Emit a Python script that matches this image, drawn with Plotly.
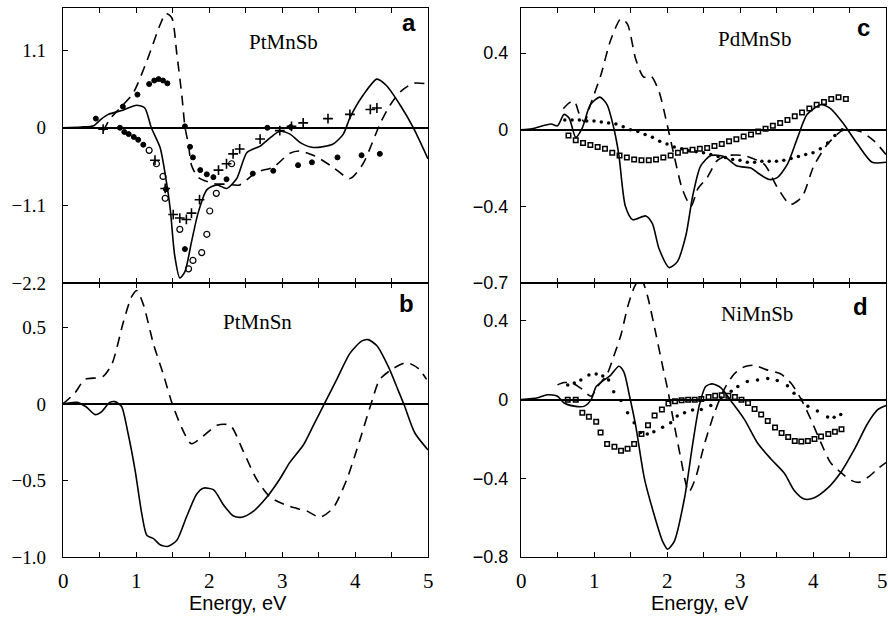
import plotly.graph_objects as go

W, H = 888, 627

# ---------------- Panel a : PtMnSb ----------------
A_SOLID_E = [0, 0.25, 0.42, 0.52, 0.62, 0.82, 1.01, 1.12, 1.21, 1.33, 1.42, 1.47, 1.53, 1.60, 1.67, 1.76, 1.85,
             1.97, 2.11, 2.24, 2.38, 2.52, 2.70, 2.84, 2.97, 3.11, 3.25, 3.43, 3.70, 3.84, 3.93, 4.11, 4.30,
             4.43, 4.62, 4.80, 5.0]
A_SOLID_V = [0, 0.01, 0.03, 0.12, 0.19, 0.25, 0.32, 0.28, 0.0, -0.28, -0.79, -1.16, -1.81, -2.13, -2.04, -1.62,
             -1.21, -0.88, -0.81, -0.86, -0.72, -0.35, -0.26, -0.14, -0.05, -0.09, -0.21, -0.28, -0.23, -0.09,
             0.14, 0.46, 0.69, 0.60, 0.32, 0.0, -0.44]
A_DASH_E = [0.55, 0.64, 0.80, 0.96, 1.15, 1.33, 1.41, 1.49, 1.56, 1.63, 1.67, 1.72, 1.76, 1.85, 2.06, 2.24, 2.42,
            2.65, 2.88, 3.11, 3.25, 3.45, 3.70, 3.93, 4.11, 4.23, 4.34, 4.48, 4.62, 4.80, 5.0]
A_DASH_V = [-0.05, 0.12, 0.30, 0.49, 0.95, 1.46, 1.62, 1.56, 1.04, 0.44, 0.02, -0.25, -0.53, -0.70, -0.79, -0.80,
            -0.81, -0.63, -0.56, -0.36, -0.33, -0.40, -0.56, -0.72, -0.51, -0.23, 0.05, 0.32, 0.51, 0.63, 0.62]
A_DOT_E = [0.45, 0.82, 1.02, 1.18, 1.25, 1.31, 1.37, 1.43, 0.78, 0.84, 0.90, 0.97, 1.03, 1.10, 1.41, 1.67,
           1.67, 1.74, 1.78, 1.88, 1.97, 2.06, 2.24, 2.60, 2.88, 3.22, 3.41, 3.76, 4.09, 4.34, 2.80, 3.12]
A_DOT_V = [0.13, 0.30, 0.47, 0.62, 0.67, 0.69, 0.67, 0.63, 0.0, -0.06, -0.09, -0.13, -0.17, -0.24, -0.87, -1.72,
           0.02, -0.27, -0.42, -0.60, -0.66, -0.70, -0.73, -0.65, -0.61, -0.53, -0.49, -0.42, -0.39, -0.37, 0.0, 0.01]
A_OPEN_E = [1.18, 1.28, 1.37, 1.40, 1.60, 1.72, 1.78, 1.90, 1.97, 2.01, 2.10, 2.31]
A_OPEN_V = [-0.32, -0.51, -0.69, -1.00, -1.44, -2.00, -1.88, -1.77, -1.51, -1.18, -0.93, -0.51]
A_PLUS_E = [0.55, 1.26, 1.40, 1.51, 1.60, 1.69, 1.76, 1.87, 2.13, 2.24, 2.33, 2.42, 2.70, 2.97, 3.13, 3.29,
            3.63, 3.93, 4.21, 4.30]
A_PLUS_V = [-0.02, -0.46, -0.86, -1.23, -1.28, -1.30, -1.21, -1.02, -0.60, -0.51, -0.37, -0.30, -0.16, -0.04,
            0.02, 0.07, 0.13, 0.19, 0.26, 0.28]

# ---------------- Panel b : PtMnSn ----------------
B_SOLID_E = [0, 0.19, 0.32, 0.44, 0.53, 0.64, 0.71, 0.80, 0.89, 0.99, 1.08, 1.15, 1.24, 1.33, 1.44, 1.56, 1.69,
             1.83, 1.92, 2.06, 2.20, 2.33, 2.45, 2.61, 2.79, 2.97, 3.11, 3.29, 3.43, 3.59, 3.75, 3.93, 4.09,
             4.18, 4.30, 4.46, 4.59, 4.68, 4.82, 5.0]
B_SOLID_V = [0, 0.01, -0.02, -0.07, -0.05, 0.01, 0.015, -0.015, -0.19, -0.44, -0.72, -0.86, -0.88, -0.92, -0.93,
             -0.89, -0.74, -0.59, -0.55, -0.56, -0.66, -0.73, -0.74, -0.70, -0.61, -0.49, -0.38, -0.27, -0.14,
             0.01, 0.16, 0.33, 0.41, 0.42, 0.38, 0.24, 0.09, -0.015, -0.19, -0.30]
B_DASH_E = [0, 0.16, 0.30, 0.46, 0.55, 0.67, 0.83, 0.94, 1.01, 1.10, 1.24, 1.37, 1.49, 1.63, 1.76, 1.92, 2.11,
            2.29, 2.47, 2.65, 2.84, 3.11, 3.34, 3.52, 3.70, 3.89, 4.07, 4.21, 4.34, 4.52, 4.71, 4.87, 4.98]
B_DASH_V = [0, 0.07, 0.16, 0.17, 0.18, 0.26, 0.54, 0.70, 0.74, 0.65, 0.39, 0.20, 0.01, -0.16, -0.26, -0.21, -0.14,
            -0.14, -0.31, -0.49, -0.61, -0.67, -0.70, -0.74, -0.68, -0.49, -0.23, -0.015, 0.16, 0.23, 0.27,
            0.23, 0.16]

# ---------------- Panel c : PdMnSb ----------------
C_SOLID_E = [0, 0.15, 0.41, 0.50, 0.59, 0.66, 0.75, 0.84, 0.95, 1.08, 1.18, 1.27, 1.34, 1.43, 1.53, 1.71, 1.80,
             1.89, 2.03, 2.14, 2.26, 2.35, 2.46, 2.60, 2.78, 2.96, 3.15, 3.26, 3.40, 3.51, 3.65, 3.79, 3.92,
             4.11, 4.24, 4.42, 4.61, 4.81, 5.0]
C_SOLID_V = [0, 0.005, 0.03, 0.02, 0.08, 0.06, -0.04, 0.01, 0.13, 0.17, 0.13, 0.01, -0.13, -0.40, -0.47, -0.45,
             -0.49, -0.62, -0.72, -0.69, -0.55, -0.35, -0.19, -0.135, -0.14, -0.19, -0.20, -0.23, -0.26, -0.25,
             -0.18, -0.04, 0.08, 0.13, 0.11, 0.03, -0.075, -0.17, -0.17]
C_DASH_E = [0.58, 0.66, 0.73, 0.80, 0.87, 0.95, 1.09, 1.23, 1.37, 1.46, 1.57, 1.68, 1.78, 1.89, 2.00, 2.10, 2.21,
            2.33, 2.42, 2.55, 2.69, 2.83, 3.05, 3.33, 3.51, 3.69, 3.85, 4.01, 4.20, 4.42, 4.65, 4.84, 5.0]
C_DASH_V = [0.11, 0.14, 0.15, 0.08, 0.04, 0.13, 0.28, 0.47, 0.58, 0.55, 0.37, 0.275, 0.28, 0.20, 0.03, -0.14,
            -0.31, -0.40, -0.31, -0.25, -0.16, -0.135, -0.135, -0.18, -0.30, -0.39, -0.35, -0.19, -0.075, 0.0,
            -0.01, -0.06, -0.13]
C_DOT_E = [0.6, 0.7, 0.8, 0.9, 1.0, 1.1, 1.2, 1.3, 1.4, 1.5, 1.6, 1.7, 1.8, 1.9, 2.0, 2.1, 2.2, 2.3, 2.4, 2.5,
           2.6, 2.7, 2.8, 2.9, 3.0, 3.1, 3.2, 3.3, 3.4, 3.5, 3.6, 3.7, 3.8, 3.9, 4.0, 4.1, 4.2, 4.3, 4.4]
C_DOT_V = [0.05, 0.05, 0.05, 0.045, 0.045, 0.04, 0.035, 0.03, 0.015, 0.0, -0.01, -0.025, -0.04, -0.06, -0.075,
           -0.09, -0.10, -0.11, -0.115, -0.12, -0.13, -0.14, -0.145, -0.155, -0.16, -0.17, -0.17, -0.165, -0.165,
           -0.165, -0.16, -0.15, -0.14, -0.13, -0.12, -0.10, -0.07, -0.03, 0.0]
C_SQ_E = [0.65, 0.75, 0.85, 0.95, 1.05, 1.15, 1.25, 1.35, 1.45, 1.55, 1.65, 1.75, 1.85, 1.95, 2.05, 2.15, 2.25,
          2.35, 2.45, 2.55, 2.65, 2.75, 2.85, 2.95, 3.05, 3.15, 3.25, 3.35, 3.45, 3.55, 3.65, 3.75, 3.85, 3.95,
          4.05, 4.15, 4.25, 4.35, 4.45]
C_SQ_V = [-0.03, -0.055, -0.07, -0.08, -0.09, -0.10, -0.12, -0.135, -0.145, -0.155, -0.16, -0.16, -0.155, -0.145,
          -0.135, -0.12, -0.11, -0.105, -0.10, -0.095, -0.085, -0.075, -0.06, -0.05, -0.035, -0.025, -0.01, 0.005,
          0.02, 0.035, 0.05, 0.07, 0.09, 0.11, 0.13, 0.145, 0.16, 0.17, 0.16]

# ---------------- Panel d : NiMnSb ----------------
D_SOLID_E = [0, 0.23, 0.36, 0.50, 0.59, 0.73, 0.87, 0.96, 1.03, 1.14, 1.23, 1.34, 1.41, 1.48, 1.57, 1.69, 1.82,
             1.94, 2.01, 2.10, 2.24, 2.35, 2.44, 2.53, 2.62, 2.74, 2.88, 3.06, 3.24, 3.42, 3.61, 3.74, 3.88,
             4.01, 4.20, 4.38, 4.57, 4.75, 4.89, 5.0]
D_SOLID_V = [0, 0.01, 0.025, 0.017, -0.017, -0.033, -0.033, 0, 0.067, 0.10, 0.125, 0.17, 0.14, 0.03, -0.13, -0.40,
             -0.58, -0.72, -0.76, -0.72, -0.50, -0.23, -0.033, 0.067, 0.08, 0.06, -0.008, -0.10, -0.22, -0.30,
             -0.375, -0.46, -0.505, -0.50, -0.45, -0.37, -0.25, -0.12, -0.05, -0.03]
D_DASH_E = [0.50, 0.59, 0.71, 0.82, 0.96, 1.05, 1.18, 1.27, 1.37, 1.46, 1.55, 1.64, 1.73, 1.85, 1.94, 2.01, 2.10,
            2.19, 2.26, 2.30, 2.39, 2.51, 2.65, 2.78, 2.92, 3.06, 3.19, 3.38, 3.56, 3.70, 3.84, 3.97, 4.11, 4.24,
            4.38, 4.52, 4.63, 4.77, 4.89, 5.0]
D_DASH_V = [0.075, 0.087, 0.083, 0.058, 0.017, 0.067, 0.13, 0.22, 0.33, 0.47, 0.57, 0.62, 0.53, 0.33, 0.17, 0.05,
            -0.13, -0.30, -0.43, -0.47, -0.40, -0.23, -0.067, 0.05, 0.13, 0.167, 0.175, 0.15, 0.13, 0.083, 0.0,
            -0.10, -0.22, -0.32, -0.37, -0.41, -0.42, -0.39, -0.35, -0.32]
D_DOT_E = [0.64, 0.73, 0.82, 0.93, 1.03, 1.12, 1.20, 1.27, 1.37, 1.46, 1.55, 1.64, 1.73, 1.82, 1.94, 2.05, 2.14,
           2.24, 2.35, 2.47, 2.60, 2.74, 2.88, 2.97, 3.10, 3.24, 3.38, 3.51, 3.65, 3.74, 3.84, 3.93, 4.06, 4.20,
           4.29, 4.38]
D_DOT_V = [0.075, 0.085, 0.10, 0.125, 0.13, 0.12, 0.10, 0.04, -0.005, -0.067, -0.117, -0.167, -0.175, -0.163,
           -0.14, -0.117, -0.083, -0.067, -0.053, -0.05, -0.03, 0.008, 0.042, 0.067, 0.092, 0.10, 0.108, 0.097,
           0.07, 0.033, 0.0, -0.033, -0.058, -0.088, -0.09, -0.075]
D_SQ_E = [0.64, 0.75, 0.84, 0.93, 1.03, 1.09, 1.18, 1.28, 1.37, 1.46, 1.55, 1.65, 1.74, 1.83, 1.93, 2.02, 2.11,
          2.20, 2.29, 2.38, 2.47, 2.57, 2.66, 2.75, 2.84, 2.93, 3.02, 3.11, 3.20, 3.29, 3.38, 3.48, 3.57, 3.66,
          3.75, 3.84, 3.93, 4.02, 4.11, 4.21, 4.30, 4.39]
D_SQ_V = [0.0, 0.0, -0.067, -0.087, -0.113, -0.167, -0.225, -0.24, -0.26, -0.25, -0.225, -0.175, -0.13, -0.08,
          -0.05, -0.02, -0.008, -0.003, 0.0, 0.0, 0.003, 0.013, 0.02, 0.022, 0.02, 0.013, 0.0, -0.017, -0.047,
          -0.075, -0.108, -0.142, -0.17, -0.19, -0.21, -0.213, -0.21, -0.20, -0.187, -0.175, -0.163, -0.15]

# ---------------- Axis ticks / labels ----------------
X_TICKVALS = [0, 0.5, 1, 1.5, 2, 2.5, 3, 3.5, 4, 4.5, 5]
X_LABELVALS = [0, 1, 2, 3, 4, 5]
X_LABELTEXT = ["0", "1", "2", "3", "4", "5"]
A_TICKVALS, A_TICKTEXT = [-2.2, -1.1, 0, 1.1], ["\u22122.2", "\u22121.1", "0", "1.1"]
B_TICKVALS, B_TICKTEXT = [-1.0, -0.5, 0, 0.5], ["\u22121.0", "\u22120.5", "0", "0.5"]
C_TICKVALS, C_TICKTEXT = [-0.8, -0.4, 0, 0.4], ["\u22120.7", "\u22120.4", "0", "0.4"]
D_TICKVALS, D_TICKTEXT = [-0.8, -0.4, 0, 0.4], ["\u22120.8", "\u22120.4", "0", "0.4"]
X_TITLE = "Energy, eV"
COMPOUNDS = ["PtMnSb", "PtMnSn", "PdMnSb", "NiMnSb"]
LETTERS = ["a", "b", "c", "d"]

SERIF = "Liberation Serif, Times New Roman, serif"
SANS = "Liberation Sans, Arial, sans-serif"


def px(x):
    return x / W


def py(y):
    return 1 - y / H


fig = go.Figure()

LINE_W = 1.6
DASH = "10px,7px"


def add_line(E, V, ax, dash=None):
    fig.add_trace(go.Scatter(x=E, y=V, mode="lines", xaxis="x" + ax, yaxis="y" + ax,
                             line=dict(color="black", width=LINE_W, dash=dash or "solid",
                                       shape="spline", smoothing=0.7),
                             showlegend=False, hoverinfo="skip"))


def add_markers(E, V, ax, symbol, size, lw=1.0):
    fig.add_trace(go.Scatter(x=E, y=V, mode="markers", xaxis="x" + ax, yaxis="y" + ax,
                             marker=dict(symbol=symbol, size=size, color="black",
                                         line=dict(color="black", width=lw)),
                             showlegend=False, hoverinfo="skip", cliponaxis=True))


# panel a -> axis "" (x/y), b -> 2, c -> 3, d -> 4
add_line(A_SOLID_E, A_SOLID_V, "")
add_line(A_DASH_E, A_DASH_V, "", DASH)
add_markers(A_DOT_E, A_DOT_V, "", "circle", 5)
add_markers(A_OPEN_E, A_OPEN_V, "", "circle-open", 6, 1.2)
add_markers(A_PLUS_E, A_PLUS_V, "", "cross-thin-open", 7, 1.6)

add_line(B_SOLID_E, B_SOLID_V, "2")
add_line(B_DASH_E, B_DASH_V, "2", DASH)

add_line(C_SOLID_E, C_SOLID_V, "3")
add_line(C_DASH_E, C_DASH_V, "3", DASH)
add_markers(C_DOT_E, C_DOT_V, "3", "circle", 3.5, 0)
add_markers(C_SQ_E, C_SQ_V, "3", "square-open", 4.5, 1.5)

add_line(D_SOLID_E, D_SOLID_V, "4")
add_line(D_DASH_E, D_DASH_V, "4", DASH)
add_markers(D_DOT_E, D_DOT_V, "4", "circle", 3.5, 0)
add_markers(D_SQ_E, D_SQ_V, "4", "square-open", 4.5, 1.5)

LEFT = [px(63), px(428)]
RIGHT = [px(521), px(886)]
TOP = [py(288), py(8)]
BOT = [py(567), py(288)]


def xax(domain, anchor):
    return dict(domain=domain, anchor=anchor, range=[0, 5], showline=True, linecolor="black", linewidth=1.3,
                mirror="ticks", ticks="inside", ticklen=5, tickwidth=1.2, tickcolor="black",
                tickmode="array", tickvals=X_TICKVALS, showticklabels=False,
                showgrid=False, zeroline=False)


def yax(domain, anchor, rng, tv, tt, font, size, standoff):
    return dict(domain=domain, anchor=anchor, range=rng, showline=True, linecolor="black", linewidth=1.3,
                mirror=True, ticks="inside", ticklen=5, tickwidth=1.2, tickcolor="black",
                tickmode="array", tickvals=tv, ticktext=tt, showgrid=False,
                zeroline=True, zerolinecolor="black", zerolinewidth=1.5, ticklabelstandoff=standoff,
                tickfont=dict(family=font, size=size, color="black"))


fig.update_layout(
    width=W, height=H, margin=dict(l=0, r=0, t=0, b=0),
    paper_bgcolor="white", plot_bgcolor="white", showlegend=False,
    xaxis=xax(LEFT, "y"),
    yaxis=yax(TOP, "x", [-2.2, 1.7], A_TICKVALS, A_TICKTEXT, SERIF, 19, 12),
    xaxis2=xax(LEFT, "y2"),
    yaxis2=yax(BOT, "x2", [-1.0, 0.79], B_TICKVALS, B_TICKTEXT, SERIF, 19, 12),
    xaxis3=xax(RIGHT, "y3"),
    yaxis3=yax(TOP, "x3", [-0.8, 0.636], C_TICKVALS, C_TICKTEXT, SANS, 18, 8),
    xaxis4=xax(RIGHT, "y4"),
    yaxis4=yax(BOT, "x4", [-0.8, 0.593], D_TICKVALS, D_TICKTEXT, SANS, 18, 8),
)

# x tick numbers placed under the bottom panels, at the axis' own data positions
ann = []
for xref, yref in (("x2", "y2 domain"), ("x4", "y4 domain")):
    for v, t in zip(X_LABELVALS, X_LABELTEXT):
        shift = -4 if (xref == "x4" and v == X_LABELVALS[-1]) else 0
        ann.append(dict(text=t, x=v, y=0, xref=xref, yref=yref, yshift=-24, xshift=shift, showarrow=False,
                        xanchor="center", yanchor="middle", font=dict(family=SERIF, size=21, color="black")))

name_pos = [(283, 43), (257, 328), (755, 40), (757, 320)]
letter_pos = [(409, 23), (406, 309), (863, 28), (860, 312)]
for name, (x, y) in zip(COMPOUNDS, name_pos):
    ann.append(dict(text=name, x=px(x), y=py(y), xref="paper", yref="paper", showarrow=False,
                    xanchor="center", yanchor="middle", font=dict(family=SERIF, size=21, color="black")))
for let, (x, y) in zip(LETTERS, letter_pos):
    ann.append(dict(text="<b>%s</b>" % let, x=px(x), y=py(y), xref="paper", yref="paper", showarrow=False,
                    xanchor="center", yanchor="middle", font=dict(family=SANS, size=24, color="black")))
for x in (238, 700):
    ann.append(dict(text=X_TITLE, x=px(x), y=py(614), xref="paper", yref="paper", showarrow=False,
                    xanchor="center", yanchor="middle", font=dict(family=SANS, size=20, color="black")))
fig.update_layout(annotations=ann)

fig.write_html("out.html")
